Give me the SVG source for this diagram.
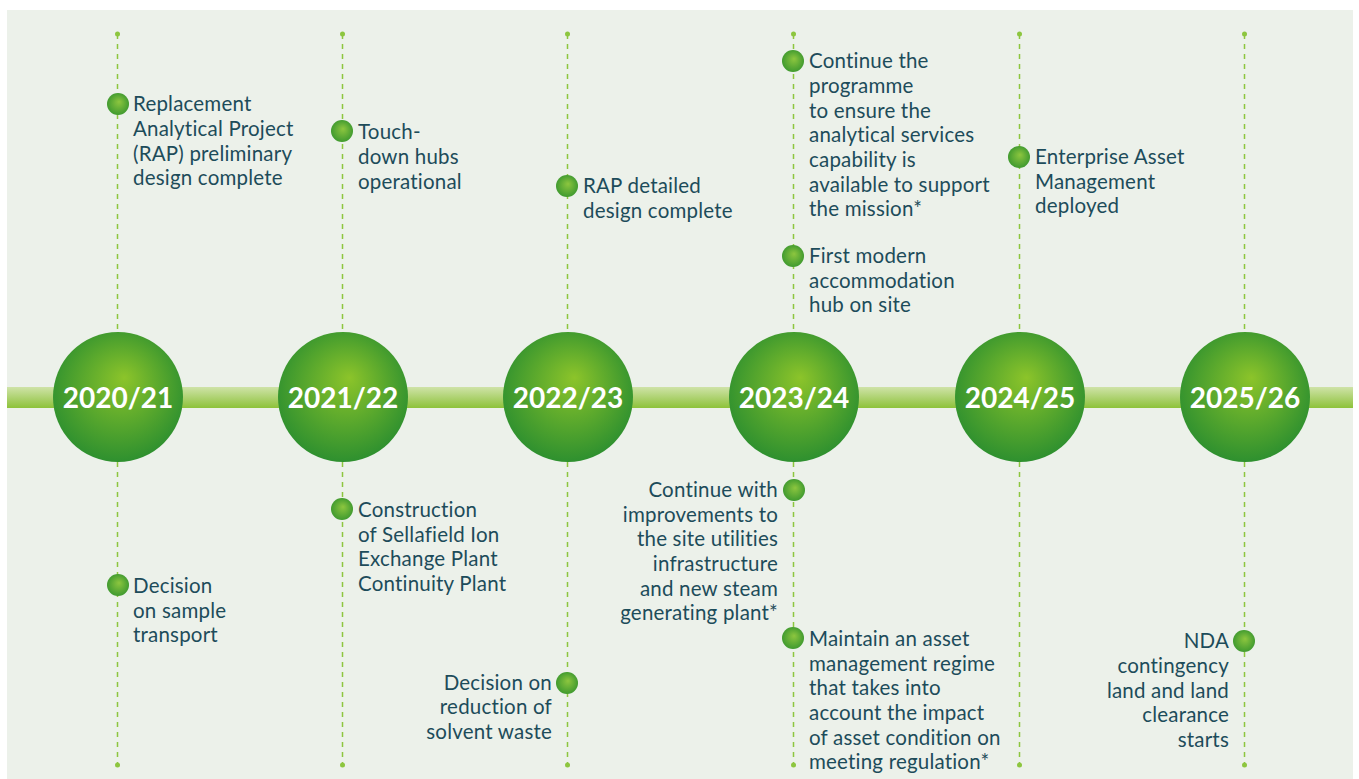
<svg xmlns="http://www.w3.org/2000/svg" width="1359" height="779" viewBox="0 0 1359 779">
<defs>
<radialGradient id="gYear" cx="0.5" cy="0.45" r="0.55" fx="0.55" fy="0.35">
<stop offset="0" stop-color="#8CC42A"/>
<stop offset="1" stop-color="#2E902F"/>
</radialGradient>
<radialGradient id="gDot" cx="0.5" cy="0.5" r="0.55" fx="0.55" fy="0.4">
<stop offset="0" stop-color="#8DC63F"/>
<stop offset="1" stop-color="#3A972E"/>
</radialGradient>
<linearGradient id="gBand" x1="0" y1="0" x2="0" y2="1">
<stop offset="0" stop-color="#CFE3A8"/>
<stop offset="1" stop-color="#8DC23A"/>
</linearGradient>
<style>
.bg{fill:#ECF1EA}
.dash{stroke:#8DC63F;stroke-width:1.5;stroke-dasharray:5 5;fill:none}
.end{fill:#8DC63F}
.yr{fill:url(#gYear)}
.yt{fill:#FFFFFF;font-family:Lato,"Open Sans","Liberation Sans",sans-serif;font-weight:bold;font-size:28px;text-anchor:middle}
.dot{fill:url(#gDot)}
.t{fill:#1D4C5A;font-family:Lato,"Open Sans","Liberation Sans",sans-serif;font-size:20.5px;letter-spacing:0.2px}
.r{text-anchor:end}
</style>
</defs>
<rect x="7" y="10" width="1346" height="769" class="bg"/>
<g id="connectors">
<line class="dash" x1="117.5" y1="34" x2="117.5" y2="332"/>
<line class="dash" x1="117.5" y1="462" x2="117.5" y2="765"/>
<line class="dash" x1="342.5" y1="34" x2="342.5" y2="332"/>
<line class="dash" x1="342.5" y1="462" x2="342.5" y2="765"/>
<line class="dash" x1="567.5" y1="34" x2="567.5" y2="332"/>
<line class="dash" x1="567.5" y1="462" x2="567.5" y2="765"/>
<line class="dash" x1="793.5" y1="34" x2="793.5" y2="332"/>
<line class="dash" x1="793.5" y1="462" x2="793.5" y2="765"/>
<line class="dash" x1="1019.5" y1="34" x2="1019.5" y2="332"/>
<line class="dash" x1="1019.5" y1="462" x2="1019.5" y2="765"/>
<line class="dash" x1="1244.5" y1="34" x2="1244.5" y2="332"/>
<line class="dash" x1="1244.5" y1="462" x2="1244.5" y2="765"/>
<circle class="end" cx="117.5" cy="34" r="2.5"/><circle class="end" cx="117.5" cy="765" r="2.5"/>
<circle class="end" cx="342.5" cy="34" r="2.5"/><circle class="end" cx="342.5" cy="765" r="2.5"/>
<circle class="end" cx="567.5" cy="34" r="2.5"/><circle class="end" cx="567.5" cy="765" r="2.5"/>
<circle class="end" cx="793.5" cy="34" r="2.5"/><circle class="end" cx="793.5" cy="765" r="2.5"/>
<circle class="end" cx="1019.5" cy="34" r="2.5"/><circle class="end" cx="1019.5" cy="765" r="2.5"/>
<circle class="end" cx="1244.5" cy="34" r="2.5"/><circle class="end" cx="1244.5" cy="765" r="2.5"/>
<rect x="7" y="387" width="1346" height="21" fill="url(#gBand)"/>
</g>
<g id="y2020"><circle class="yr" cx="118" cy="397" r="65"/><text class="yt" x="118" y="408">2020/21</text></g>
<g id="y2021"><circle class="yr" cx="343" cy="397" r="65"/><text class="yt" x="343" y="408">2021/22</text></g>
<g id="y2022"><circle class="yr" cx="568" cy="397" r="65"/><text class="yt" x="568" y="408">2022/23</text></g>
<g id="y2023"><circle class="yr" cx="794" cy="397" r="65"/><text class="yt" x="794" y="408">2023/24</text></g>
<g id="y2024"><circle class="yr" cx="1020" cy="397" r="65"/><text class="yt" x="1020" y="408">2024/25</text></g>
<g id="y2025"><circle class="yr" cx="1245" cy="397" r="65"/><text class="yt" x="1245" y="408">2025/26</text></g>

<g id="m1"><circle class="dot" cx="118" cy="104" r="11"/>
<text class="t" x="133"><tspan x="133" y="111">Replacement</tspan><tspan x="133" y="136">Analytical Project</tspan><tspan x="133" y="161">(RAP) preliminary</tspan><tspan x="133" y="185">design complete</tspan></text></g>
<g id="m2"><circle class="dot" cx="118" cy="585" r="11"/>
<text class="t"><tspan x="133" y="593">Decision</tspan><tspan x="133" y="618">on sample</tspan><tspan x="133" y="642">transport</tspan></text></g>
<g id="m3"><circle class="dot" cx="342" cy="131" r="11"/>
<text class="t"><tspan x="358" y="139">Touch-</tspan><tspan x="358" y="164">down hubs</tspan><tspan x="358" y="189">operational</tspan></text></g>
<g id="m4"><circle class="dot" cx="342" cy="509" r="11"/>
<text class="t"><tspan x="358" y="517">Construction</tspan><tspan x="358" y="542">of Sellafield Ion</tspan><tspan x="358" y="566">Exchange Plant</tspan><tspan x="358" y="591">Continuity Plant</tspan></text></g>
<g id="m5"><circle class="dot" cx="567" cy="186" r="11"/>
<text class="t"><tspan x="583" y="193">RAP detailed</tspan><tspan x="583" y="218">design complete</tspan></text></g>
<g id="m6"><circle class="dot" cx="567" cy="683" r="11"/>
<text class="t r"><tspan x="552" y="690">Decision on</tspan><tspan x="552" y="714">reduction of</tspan><tspan x="552" y="739">solvent waste</tspan></text></g>
<g id="m7"><circle class="dot" cx="793" cy="61" r="11"/>
<text class="t"><tspan x="809" y="68">Continue the</tspan><tspan x="809" y="93">programme</tspan><tspan x="809" y="118">to ensure the</tspan><tspan x="809" y="142">analytical services</tspan><tspan x="809" y="167">capability is</tspan><tspan x="809" y="192">available to support</tspan><tspan x="809" y="216">the mission*</tspan></text></g>
<g id="m8"><circle class="dot" cx="793" cy="256" r="11"/>
<text class="t"><tspan x="809" y="263">First modern</tspan><tspan x="809" y="288">accommodation</tspan><tspan x="809" y="312">hub on site</tspan></text></g>
<g id="m9"><circle class="dot" cx="794" cy="490" r="11"/>
<text class="t r"><tspan x="778" y="497">Continue with</tspan><tspan x="778" y="522">improvements to</tspan><tspan x="778" y="546">the site utilities</tspan><tspan x="778" y="571">infrastructure</tspan><tspan x="778" y="596">and new steam</tspan><tspan x="778" y="620">generating plant*</tspan></text></g>
<g id="m10"><circle class="dot" cx="793" cy="638" r="11"/>
<text class="t"><tspan x="809" y="646">Maintain an asset</tspan><tspan x="809" y="671">management regime</tspan><tspan x="809" y="695">that takes into</tspan><tspan x="809" y="720">account the impact</tspan><tspan x="809" y="745">of asset condition on</tspan><tspan x="809" y="769">meeting regulation*</tspan></text></g>
<g id="m11"><circle class="dot" cx="1019" cy="157" r="11"/>
<text class="t"><tspan x="1035" y="164">Enterprise Asset</tspan><tspan x="1035" y="189">Management</tspan><tspan x="1035" y="213">deployed</tspan></text></g>
<g id="m12"><circle class="dot" cx="1244" cy="641" r="11"/>
<text class="t r"><tspan x="1229" y="648">NDA</tspan><tspan x="1229" y="673">contingency</tspan><tspan x="1229" y="698">land and land</tspan><tspan x="1229" y="722">clearance</tspan><tspan x="1229" y="747">starts</tspan></text></g>
</svg>
